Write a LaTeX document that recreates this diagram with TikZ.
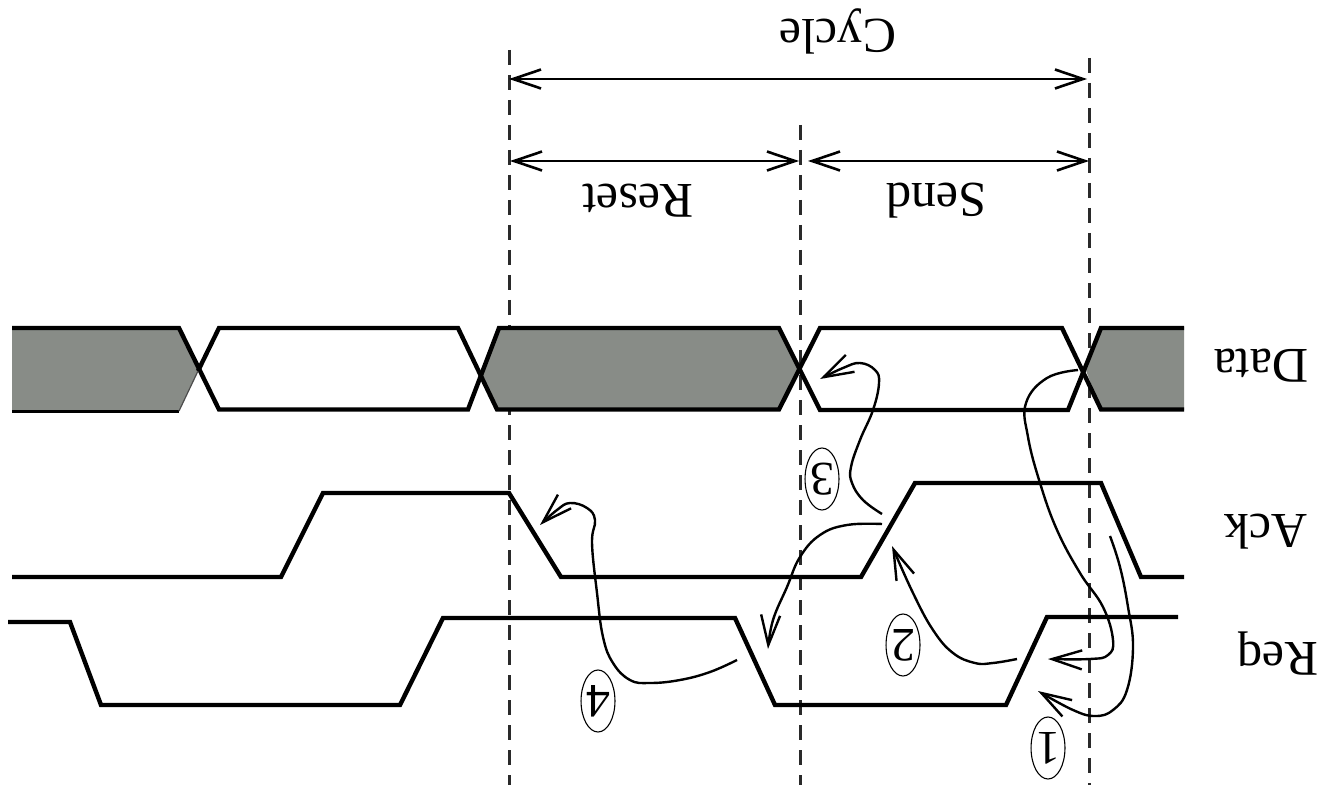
\documentclass[tikz,border=0pt]{standalone}
\usepackage{fontspec}
\setmainfont{Liberation Serif}
\usetikzlibrary{arrows.meta,shapes.geometric}
\definecolor{fillgray}{HTML}{888C87}
\definecolor{dashgray}{HTML}{2A2A2A}
\tikzset{
  wave/.style={line width=4.4pt,line join=miter,black},
  thinwave/.style={line width=3pt,black},
  guide/.style={line width=3pt,dashgray,dash pattern=on 15pt off 10pt},
  span/.style={line width=2.6pt,black,{Straight Barb[length=28pt,width=19pt,line width=2.6pt]}-{Straight Barb[length=28pt,width=19pt,line width=2.6pt]}},
  cause/.style={line width=2.4pt,black,-{Straight Barb[length=30pt,width=19pt,line width=2.4pt]}},
  lab/.style={rotate=180,inner sep=0pt,font=\fontsize{50}{52}\selectfont},
  num/.style={rotate=180,draw,ellipse,line width=1.1pt,minimum width=30pt,minimum height=62pt,inner sep=0pt,font=\fontsize{48}{50}\selectfont}
}
\begin{document}
\begin{tikzpicture}[x=1pt,y=-1pt]
\useasboundingbox (0,0) rectangle (1324,791);
\fill[white] (0,0) rectangle (1324,791);
% guides
\coordinate (g1t) at (509,50);   \coordinate (g1b) at (509,785);
\coordinate (g2t) at (800,125);  \coordinate (g2b) at (800,785);
\coordinate (g3t) at (1089,58);  \coordinate (g3b) at (1089,785);
\draw[guide] (g1t)--(g1b);
\draw[guide] (g2t)--(g2b);
\draw[guide] (g3t)--(g3b);
% data fills
\fill[fillgray] (12,327)--(179,327)--(198,371)--(179,411)--(12,411)--cycle;
\fill[fillgray] (499,327)--(779,327)--(800,368)--(779,410)--(497,410)--(481,373)--cycle;
\fill[fillgray] (1101,327)--(1184,327)--(1184,410)--(1101,410)--(1085,368)--cycle;
% waves
\draw[wave] (12,328)--(179,328)--(219,409.5)--(468,409.5)--(499,328)--(779,328)--(820,410)--(1068,410)--(1101,328)--(1184,328);
\draw[thinwave] (12,411)--(179,411);
\draw[line width=1.2pt,black!70] (179,411)--(198,371);
\draw[wave] (198,371)--(219,328)--(458,328)--(497,409.5)--(779,409.5)--(820,328)--(1062,328)--(1101,409.5)--(1184,409.5);
\draw[wave] (12,577)--(281,577)--(323,493)--(509,493)--(561,577)--(861,577)--(915,483)--(1101,483)--(1141,577)--(1184,577);
\draw[wave] (8,622)--(70,622)--(101,705)--(400,705)--(443,618)--(735,618)--(775,705)--(1006,705)--(1047,617)--(1178,617);
% spans
\coordinate (c1) at (509,79); \coordinate (c2) at (1087,79);
\coordinate (r1) at (510,161); \coordinate (r2) at (799,161);
\coordinate (s1) at (808,161); \coordinate (s2) at (1089,161);
\draw[span] (c1)--(c2);
\draw[span] (r1)--(r2);
\draw[span] (s1)--(s2);
% labels
\node[lab] (cycle) at (838,31) {Cycle};
\node[lab] (reset) at (638,201) {Reset};
\node[lab] (send) at (936,201) {Send};
\node[lab] (data) at (1261,366) {Data};
\node[lab] (ack) at (1266,532) {Ack};
\node[lab] (req) at (1278,654) {Req};
\node[num] (n1) at (1048,748) {1};
\node[num] (n2) at (903,645) {2};
\node[num] (n3) at (822,479) {3};
\node[num] (n4) at (598,701) {4};
% causal curves
\coordinate (a1s) at (1078,370); \coordinate (a1e) at (1048,659);
\draw[cause] plot[smooth,tension=0.7] coordinates {(a1s) (1047,378) (1026,403) (1028,437) (1040,483) (1057,530) (1080,573) (1103,607) (1113,640) (1108,655) (1090,659) (a1e)};
\coordinate (b1s) at (1110,536); \coordinate (b1e) at (1038,691);
\draw[cause] plot[smooth,tension=0.7] coordinates {(b1s) (1120,567) (1128,607) (1133,647) (1127,690) (1113,710) (1095,716) (1073,710) (b1e)};
\coordinate (a2s) at (1017,659); \coordinate (a2e) at (892,546);
\draw[cause] plot[smooth,tension=0.7] coordinates {(a2s) (993,663) (975,663) (953,653) (933,630) (913,593) (a2e)};
\coordinate (a3s) at (882,514); \coordinate (a3e) at (820,379);
\draw[cause] plot[smooth,tension=0.7] coordinates {(a3s) (863,500) (852,483) (851,467) (860,440) (873,410) (879,383) (875,370) (860,363) (843,368) (a3e)};
\coordinate (b3s) at (882,524); \coordinate (b3e) at (768,649);
\draw[cause] plot[smooth,tension=0.7] coordinates {(b3s) (847,525) (820,535) (800,557) (787,587) (773,620) (b3e)};
\coordinate (a4s) at (737,660); \coordinate (a4e) at (540,525);
\draw[cause] plot[smooth,tension=0.7] coordinates {(a4s) (710,672) (680,680) (650,683) (630,680) (613,663) (603,637) (597,593) (592,543) (595,520) (587,508) (570,503) (557,510) (a4e)};
\end{tikzpicture}
\end{document}
